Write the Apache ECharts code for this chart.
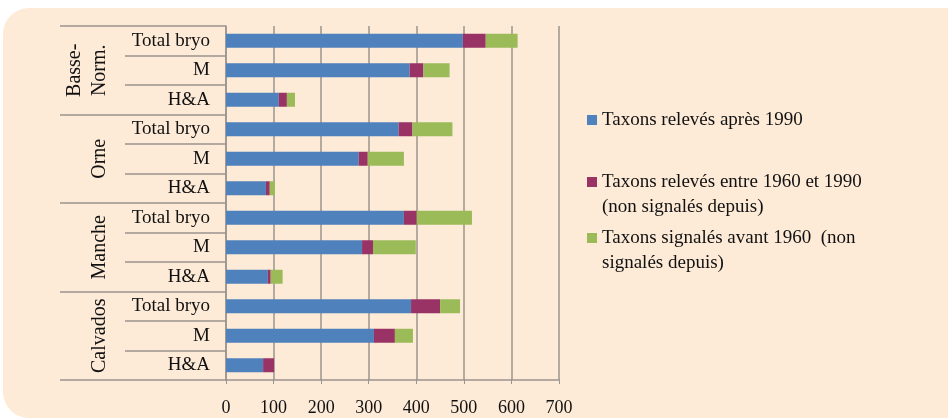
<!DOCTYPE html>
<html><head><meta charset="utf-8">
<script src="https://cdn.jsdelivr.net/npm/echarts@6/dist/echarts.min.js"></script>
<style>html,body{margin:0;padding:0;background:#fff}#c{width:948px;height:419px}</style>
</head><body><div id="c"></div>
<script>
const groups = ['Basse-\nNorm.', 'Orne', 'Manche', 'Calvados'];
const rowLabels = ['Total bryo', 'M', 'H&A', 'Total bryo', 'M', 'H&A', 'Total bryo', 'M', 'H&A', 'Total bryo', 'M', 'H&A'];
const seriesNames = ['Taxons relevés après 1990', 'Taxons relevés entre 1960 et 1990\n(non signalés depuis)', 'Taxons signalés avant 1960  (non\nsignalés depuis)'];
const after1990 = [498, 386, 111, 363, 279, 84, 374, 286, 88, 389, 311, 78];
const between1960and1990 = [48, 29, 17, 29, 19, 8, 27, 23, 6, 61, 44, 23];
const before1960 = [67, 55, 17, 84, 76, 11, 116, 90, 25, 42, 38, 0];
const colors = ['#4F81BD', '#993366', '#9BBB59'];

const FONT = 'Liberation Serif';
const gridCol = '#9a948e';
const chart = echarts.init(document.getElementById('c'));
const values = [after1990, between1960and1990, before1960];
const legendTops = [107.5, 144.5, 200.5];
const legendTexts = [seriesNames[0], '\n' + seriesNames[1], '\n' + seriesNames[2]];

chart.setOption({
  animation: false,
  graphic: [{
    type: 'rect', z: -100, zlevel: 0, silent: true,
    shape: {x: 3, y: 8, width: 990, height: 410, r: [26, 14, 0, 26]},
    style: {fill: '#FDEBD8'}
  }],
  grid: {left: 226, right: 389, top: 26, bottom: 39},
  legend: seriesNames.map((n, i) => ({
    data: [n], orient: 'vertical', left: 587, top: legendTops[i], padding: 0,
    itemWidth: 10, itemHeight: 10, icon: 'rect', selectedMode: false,
    formatter: () => legendTexts[i],
    textStyle: {fontFamily: FONT, fontSize: 19, color: '#111', lineHeight: 25}
  })),
  xAxis: {
    type: 'value', min: 0, max: 700, interval: 100,
    axisLine: {show: true, lineStyle: {color: gridCol, width: 1.5}},
    axisTick: {show: true, length: 4, lineStyle: {color: gridCol}},
    axisLabel: {fontFamily: FONT, fontSize: 18, color: '#111', margin: 19},
    splitLine: {show: true, lineStyle: {color: gridCol, width: 1.5}}
  },
  yAxis: [{
    type: 'category', inverse: true, data: rowLabels, position: 'left',
    axisLine: {show: true, lineStyle: {color: gridCol, width: 1.5}},
    axisTick: {show: true, interval: 0, length: 101, lineStyle: {color: gridCol, width: 1.5}},
    axisLabel: {interval: 0, fontFamily: FONT, fontSize: 19, color: '#111', margin: 16}
  }, {
    type: 'category', inverse: true, data: groups, position: 'left',
    axisLine: {show: false},
    axisTick: {show: true, interval: 0, length: 166, lineStyle: {color: gridCol, width: 1.5}},
    axisLabel: {interval: 0, rotate: 90, fontFamily: FONT, fontSize: 20, color: '#111', margin: 114, lineHeight: 25}
  }],
  series: seriesNames.map((n, i) => ({
    name: n, type: 'bar', stack: 'total', barWidth: 14,
    itemStyle: {color: colors[i]},
    data: values[i]
  }))
});
</script></body></html>
